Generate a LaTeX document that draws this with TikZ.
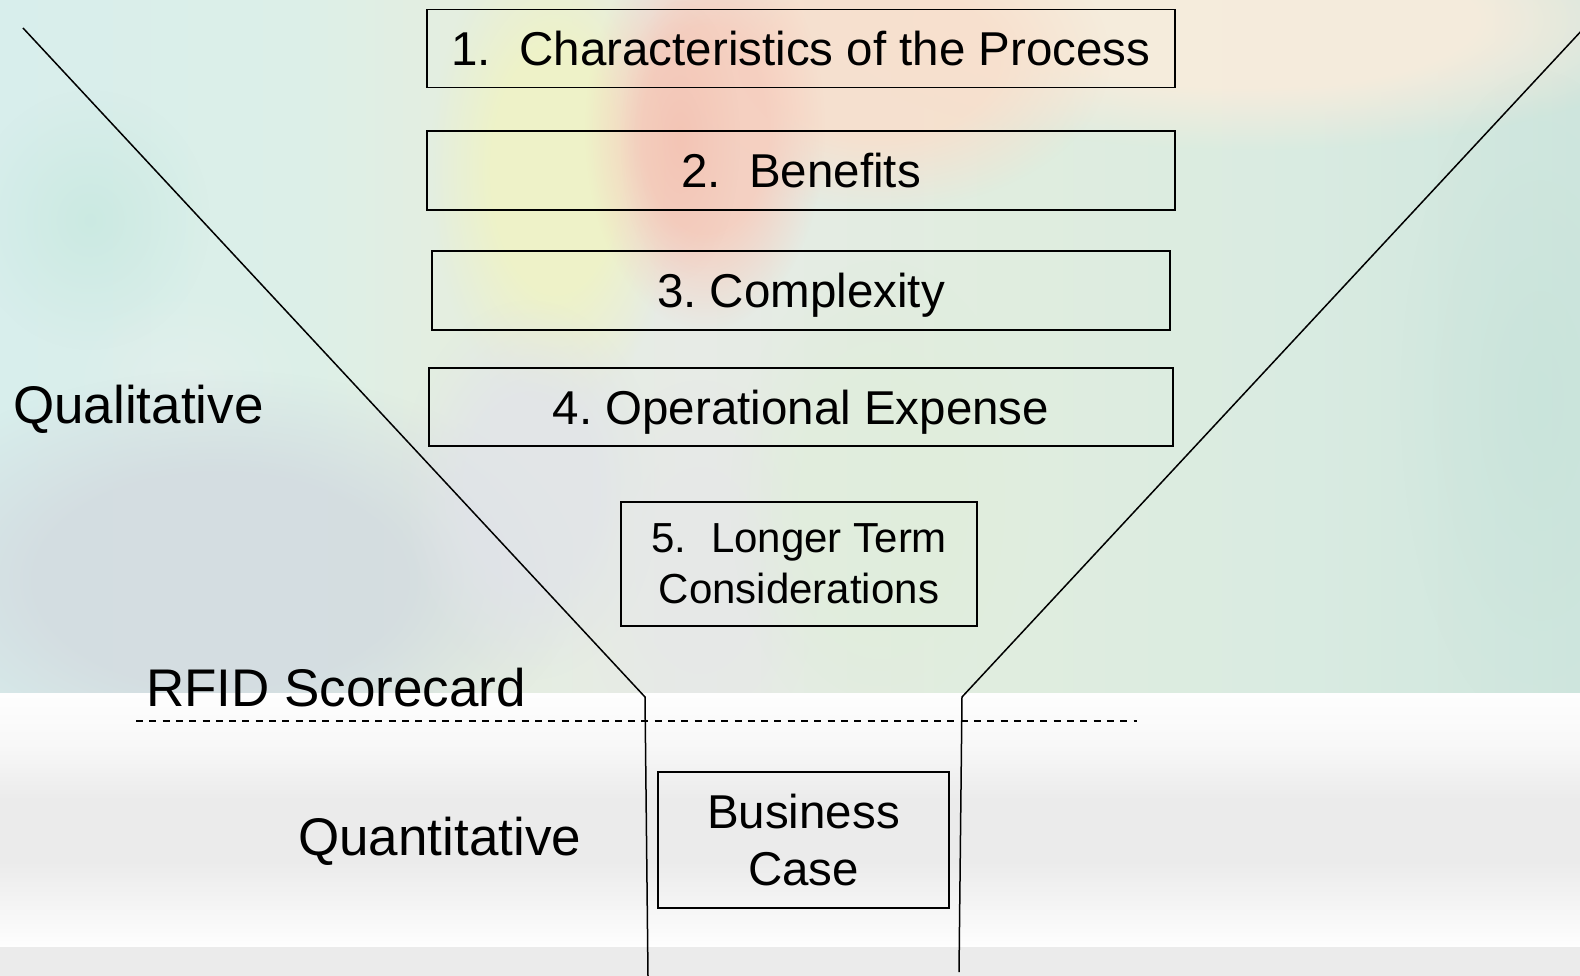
\documentclass[tikz,border=0pt]{standalone}
\usepackage{fontspec}
\setmainfont{Liberation Sans}
\usetikzlibrary{fadings}
\frenchspacing

% palette of the washed-out photo backdrop
\definecolor{pA}{HTML}{D8EEEC}
\definecolor{pB}{HTML}{DCEFE8}
\definecolor{pC}{HTML}{E4EEE0}
\definecolor{pD}{HTML}{E7EBE6}
\definecolor{pG}{HTML}{E0EDDF}
\definecolor{pH}{HTML}{D9EBE1}
\definecolor{pI}{HTML}{CFE6DE}
% lower band greys
\definecolor{gW}{HTML}{FEFEFE}
\definecolor{gL}{HTML}{F8F8F8}
\definecolor{gM}{HTML}{EBEBEB}
\definecolor{bandgray}{HTML}{EBEBEB}
% soft patches
\definecolor{blobpink}{HTML}{F6CEBF}
\definecolor{blobrose}{HTML}{F2B4A2}
\definecolor{blobpeach}{HTML}{F9DFCC}
\definecolor{blobyellow}{HTML}{EFF3C6}
\definecolor{blobcream}{HTML}{FAECDC}
\definecolor{blobteal}{HTML}{C2E7DC}
\definecolor{blobgrey}{HTML}{D3DBE0}
\definecolor{bloblav}{HTML}{E1E3EA}
\definecolor{blobmid}{HTML}{E6E8E8}
\definecolor{blobgreen}{HTML}{E0EEDB}
\definecolor{blobtealr}{HTML}{C5E2D9}
\definecolor{blobpale}{HTML}{E9F0EE}
% fading ink: black is clear, white is solid
\definecolor{fadeclear}{gray}{0}
\definecolor{fadesolid}{gray}{1}

\pgfdeclarehorizontalshading{photobase}{100bp}{%
  color(0bp)=(pA); color(25bp)=(pA); color(34.5bp)=(pB); color(39.2bp)=(pC);
  color(47bp)=(pD); color(56.6bp)=(pG);
  color(66bp)=(pH); color(75bp)=(pI); color(100bp)=(pI)}
\pgfdeclareverticalshading{lowerband}{100bp}{%
  color(0bp)=(gW); color(25bp)=(gW); color(30bp)=(gL); color(42bp)=(gM);
  color(54bp)=(gM); color(65bp)=(gL); color(75bp)=(gW); color(100bp)=(gW)}

\tikzfading[name=softblob, inner color=transparent!0, outer color=transparent!100]
\pgfdeclareradialshading{softpatchshade}{\pgfpointorigin}{%
  color(0bp)=(fadesolid); color(13bp)=(fadesolid); color(25bp)=(fadeclear); color(50bp)=(fadeclear)}
\pgfdeclarefading{softpatch}{\pgfuseshading{softpatchshade}}

\tikzset{
  blob/.style={path fading=softblob, fill opacity=#1},
  patch/.style={path fading=softpatch, fill opacity=#1},
  stagebox/.style={draw=black, line width=1.8pt, inner sep=0pt,
    font=\fontsize{47.5}{57}\selectfont, text height=34pt, text depth=0pt},
  stagewrap/.style={draw=black, line width=1.8pt, inner sep=0pt, align=center},
  sidelabel/.style={anchor=base west, inner sep=0pt, font=\fontsize{53}{63}\selectfont},
  funnel/.style={draw=black, line width=1.5pt, line join=miter},
  divider/.style={draw=black, line width=1.7pt, dash pattern=on 7pt off 6.3pt}
}

\begin{document}
\begin{tikzpicture}[x=1pt, y=-1pt]
\useasboundingbox (0,0) rectangle (1580,976);

% photo backdrop of the qualitative part
\begin{scope}
  \clip (0,0) rectangle (1580,694);
  \shade[shading=photobase] (0,0) rectangle (1580,694);
  % warm upper half
  \fill[blobcream, patch=0.85] (1250,20) ellipse [x radius=440, y radius=130];
  \fill[blobpeach, patch=0.85] (880,60) ellipse [x radius=230, y radius=150];
  \fill[blobyellow, patch=0.9] (555,170) ellipse [x radius=125, y radius=240];
  \fill[blobpink, patch=0.9] (705,130) ellipse [x radius=120, y radius=200];
  \fill[blobrose, blob=0.4] (680,140) ellipse [x radius=60, y radius=140];
  % cool and grey lower half
  \fill[blobteal, blob=0.6] (90,220) ellipse [x radius=120, y radius=130];
  \fill[blobpale, blob=0.5] (190,380) ellipse [x radius=120, y radius=90];
  \fill[blobgrey, patch=0.85] (220,580) ellipse [x radius=360, y radius=210];
  \fill[bloblav, patch=0.7] (530,490) ellipse [x radius=130, y radius=190];
  \fill[blobmid, patch=0.7] (700,570) ellipse [x radius=120, y radius=190];
  \fill[blobgreen, patch=0.7] (880,500) ellipse [x radius=150, y radius=240];
  \fill[blobtealr, blob=0.6] (1540,400) ellipse [x radius=140, y radius=330];
\end{scope}

% quantitative part
\shade[shading=lowerband] (0,693.5) rectangle (1580,947);
\fill[bandgray] (0,947) rectangle (1580,976);

% funnel outline
\coordinate (ltop) at (23,28);
\coordinate (lneck) at (645,697);
\coordinate (lfoot) at (648,976);
\coordinate (rtop) at (1584,28);
\coordinate (rneck) at (962,697);
\coordinate (rfoot) at (959,972);
\begin{scope}
  \clip (0,0) rectangle (1580,976);
  \draw[funnel] (ltop) -- (lneck) -- (lfoot);
  \draw[funnel] (rtop) -- (rneck) -- (rfoot);
\end{scope}

% scorecard divider
\coordinate (dstart) at (136,721);
\coordinate (dend) at (1137,721);
\draw[divider] (dstart) -- (dend);

% stages
\node[stagebox, minimum width=748, minimum height=78] (s1) at (801,48.5)
  {1.\hspace{0.6em}Characteristics of the Process};
\node[stagebox, minimum width=748, minimum height=79] (s2) at (801,170.5)
  {2.\hspace{0.6em}Benefits};
\node[stagebox, minimum width=738, minimum height=79] (s3) at (801,290.5)
  {3. Complexity};
\node[stagebox, minimum width=744, minimum height=78.5] (s4) at (801,407)
  {4. Operational Expense};
\node[stagewrap, minimum width=356, minimum height=124,
      font=\fontsize{42}{51}\selectfont] (s5) at (799,564)
  {5.\hspace{0.6em}Longer Term\\Considerations};
\node[stagewrap, minimum width=291, minimum height=136,
      font=\fontsize{47.5}{57}\selectfont] (bc) at (803.5,840)
  {Business\\Case};

% side labels
\node[sidelabel] (qual) at (13,423) {Qualitative};
\node[sidelabel] (rfid) at (146,706.5) {RFID Scorecard};
\node[sidelabel] (quant) at (298,855) {Quantitative};
\end{tikzpicture}
\end{document}
